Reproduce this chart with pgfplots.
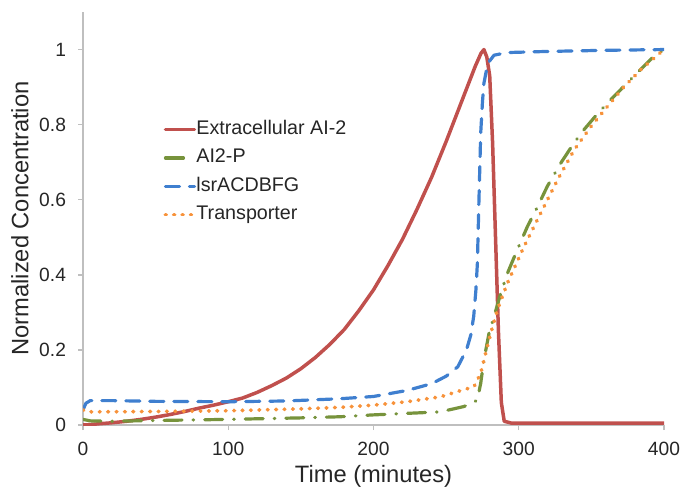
\documentclass[border=0pt]{standalone}
\usepackage{pgfplots}
\pgfplotsset{compat=1.18}
\usepackage{fontspec}
\setmainfont{Liberation Sans}

\definecolor{aired}{HTML}{C0504D}
\definecolor{apgreen}{HTML}{77933C}
\definecolor{lsrblue}{HTML}{3F7FCF}
\definecolor{trorange}{HTML}{F7923A}
\definecolor{axisgray}{HTML}{BFBFBF}

\begin{document}
\begin{tikzpicture}
\begin{axis}[
  name=ax,
  width=290.5pt, height=206.5pt, scale only axis,
  xmin=0, xmax=400, ymin=0, ymax=1.1,
  xtick={0,100,200,300,400},
  ytick={0,0.2,0.4,0.6,0.8,1},
  yticklabels={0,0.2,0.4,0.6,0.8,1},
  axis lines=left,
  axis line style={draw=axisgray, line width=0.7pt, -},
  tick style={draw=axisgray, line width=0.7pt},
  tick align=outside,
  major tick length=2.5pt,
  /pgf/number format/assume math mode=true,
  tick label style={font=\fontsize{9.6}{11}\selectfont, text=black!85},
  xticklabel style={yshift=-2.5pt},
  yticklabel style={xshift=-2.5pt},
  xlabel={Time (minutes)},
  ylabel={Normalized Concentration},
  label style={font=\fontsize{11.85}{14}\selectfont, text=black!85},
  xlabel style={yshift=2pt},
  ylabel style={yshift=-1.5pt},
  legend style={at={(rel axis cs:0.138,0.738)}, anchor=north west,
    draw=none, fill=none, inner sep=0pt, row sep=5.15pt,
    font=\fontsize{9.85}{11}\selectfont,
    nodes={inner sep=0pt, text height=7pt, text depth=2pt, text=black!85}},
  legend cell align=left,
  legend image code/.code={\draw[#1] (0pt,0pt) -- (14.5pt,0pt);},
]

% extracellular AI-2: exponential rise, then rapid uptake
\addplot[aired, line width=1.75pt, line cap=round, line join=round] coordinates {
 (0,0) (5,0.001) (10,0.003) (20,0.006) (30,0.010) (40,0.015) (50,0.021)
 (60,0.028) (70,0.036) (80,0.045) (90,0.053) (100,0.062) (110,0.072)
 (120,0.087) (130,0.105) (140,0.125) (150,0.150) (160,0.180) (170,0.215)
 (180,0.255) (190,0.305) (200,0.360) (210,0.425) (220,0.495) (230,0.575)
 (240,0.660) (250,0.755) (260,0.855) (265,0.905) (270,0.955) (274,0.99)
 (276,1.0) (278,0.98) (280,0.93) (282,0.75) (284,0.50) (286,0.25)
 (288,0.06) (290,0.01) (295,0.005) (300,0.005) (400,0.005)
};
\addlegendentry{Extracellular AI-2}

% phosphorylated AI-2
\addplot[apgreen, line width=1.6pt, line cap=round, line join=round,
  dash pattern=on 9pt off 5.5pt on 0.3pt off 5.5pt] coordinates {
 (0,0.015) (5,0.011) (20,0.010) (50,0.012) (100,0.015) (150,0.019)
 (177,0.022) (200,0.027) (223,0.031) (246,0.035) (262,0.049) (268,0.058)
 (271.5,0.067) (273.8,0.111) (276,0.173) (279.5,0.244) (283,0.289)
 (287.6,0.351) (292.2,0.404) (299,0.467) (306,0.529) (313,0.582)
 (319.7,0.636) (329,0.698) (338,0.751) (345,0.787) (354,0.828)
 (363.4,0.867) (377,0.920) (393,0.982) (400,1.0)
};
\addlegendentry{AI2-P}

% lsr operon expression
\addplot[lsrblue, line width=1.6pt, line cap=round, line join=round,
  dash pattern=on 7pt off 5pt] coordinates {
 (0,0.040) (2,0.058) (5,0.065) (20,0.065) (50,0.063) (100,0.062)
 (140,0.064) (177,0.070) (200,0.076) (223,0.092) (240,0.110) (250,0.130)
 (258,0.155) (264,0.200) (267,0.240) (269,0.290) (270.5,0.360)
 (271.5,0.430) (272.6,0.600) (273.8,0.777) (275,0.860) (276,0.910)
 (278,0.950) (280,0.970) (283,0.985) (292,0.992) (320,0.995)
 (360,0.998) (400,1.0)
};
\addlegendentry{lsrACDBFG}

% transporter expression
\addplot[trorange, line width=1.9pt, line cap=round, line join=round,
  dash pattern=on 0.3pt off 3.9pt] coordinates {
 (0,0.040) (3,0.035) (50,0.036) (100,0.038) (150,0.043) (177,0.047)
 (200,0.053) (223,0.062) (246,0.075) (257.7,0.089) (269.2,0.102)
 (273.8,0.138) (277.2,0.191) (280.7,0.244) (285.3,0.307) (292.2,0.378)
 (303.7,0.476) (315.2,0.565) (326.7,0.653) (338.2,0.733) (349.7,0.795)
 (361.2,0.849) (372.7,0.902) (384.2,0.947) (400,1.0)
};
\addlegendentry{Transporter}

\end{axis}
% fixed margins around the plot area
\pgfresetboundingbox
\path[use as bounding box] ([xshift=-41.5pt,yshift=-31.5pt]ax.south west)
  rectangle ([xshift=8.5pt,yshift=6pt]ax.north east);
\end{tikzpicture}
\end{document}
